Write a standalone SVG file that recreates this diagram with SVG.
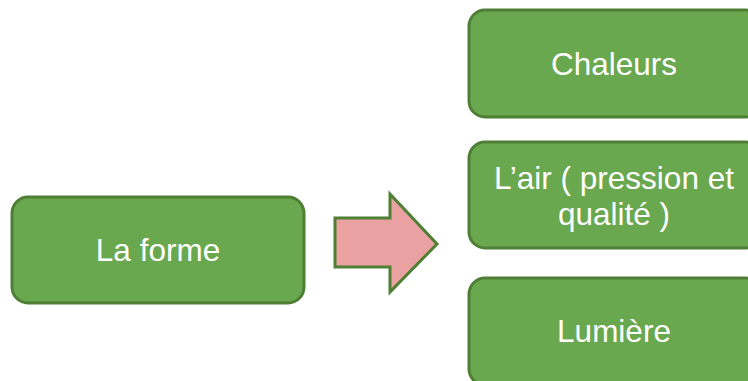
<svg xmlns="http://www.w3.org/2000/svg" width="748" height="381" viewBox="0 0 748 381">
<style>
.box{fill:#6aa84f;stroke:#4e7f35;stroke-width:3}
.t{font-family:"Liberation Sans",Arial,sans-serif;font-size:31.5px;fill:#ffffff;text-anchor:middle}
</style>
<rect width="748" height="381" fill="#ffffff"/>
<g id="la-forme">
<rect class="box" x="12" y="197" width="292" height="106" rx="16"/>
<text class="t" x="158" y="261">La forme</text>
</g>
<g id="connectors">
<polygon points="335,218 390,218 390,194 437,244 390,292 390,267 335,267" fill="#e9a1a1" stroke="#4e7f35" stroke-width="3" stroke-linejoin="miter"/>
</g>
<g id="chaleurs">
<rect class="box" x="469" y="10" width="292" height="107" rx="16"/>
<text class="t" x="614" y="75">Chaleurs</text>
</g>
<g id="air">
<rect class="box" x="469" y="142" width="292" height="106" rx="16"/>
<text class="t" x="614" y="189">L’air ( pression et</text>
<text class="t" x="614" y="225">qualité )</text>
</g>
<g id="lumiere">
<rect class="box" x="469" y="278" width="292" height="107" rx="16"/>
<text class="t" x="614" y="342">Lumière</text>
</g>
</svg>
